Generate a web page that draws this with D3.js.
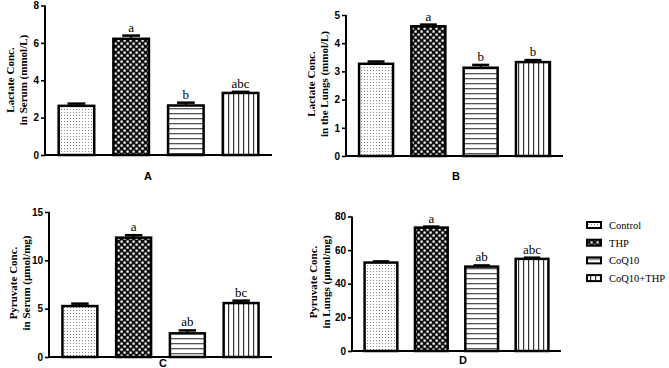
<!DOCTYPE html>
<html>
<head>
<meta charset="utf-8">
<script src="https://cdn.jsdelivr.net/npm/d3@7"></script>
<style>
  body { margin: 0; background: #fff; }
</style>
</head>
<body>
<svg id="chart" width="669" height="368"></svg>
<script>
// Treatment groups, same order in every panel
const groups = ["Control", "THP", "CoQ10", "CoQ10+THP"];

// A: lactate in serum (mmol/L)
const lactateSerumMean = [2.63, 6.22, 2.65, 3.32];
const lactateSerumSem = [0.12, 0.17, 0.15, 0.06];
const lactateSerumLetters = ["", "a", "b", "abc"];
const lactateSerumTicks = [0, 2, 4, 6, 8];

// B: lactate in the lungs (mmol/L)
const lactateLungMean = [3.27, 4.60, 3.13, 3.33];
const lactateLungSem = [0.08, 0.06, 0.10, 0.07];
const lactateLungLetters = ["", "a", "b", "b"];
const lactateLungTicks = [0, 1, 2, 3, 4, 5];

// C: pyruvate in serum (µmol/mg)
const pyruvateSerumMean = [5.27, 12.35, 2.45, 5.58];
const pyruvateSerumSem = [0.25, 0.25, 0.30, 0.25];
const pyruvateSerumLetters = ["", "a", "ab", "bc"];
const pyruvateSerumTicks = [0, 5, 10, 15];

// D: pyruvate in lungs (µmol/mg)
const pyruvateLungMean = [52.6, 73.4, 50.2, 54.8];
const pyruvateLungSem = [0.7, 0.6, 0.7, 0.7];
const pyruvateLungLetters = ["", "a", "ab", "abc"];
const pyruvateLungTicks = [0, 20, 40, 60, 80];

const svg = d3.select("svg#chart");
const defs = svg.append("defs");

// Fill patterns for the four groups
const dots = defs.append("pattern").attr("id", "pat0")
    .attr("patternUnits", "userSpaceOnUse").attr("width", 3).attr("height", 3);
dots.append("rect").attr("width", 3).attr("height", 3).attr("fill", "#fff");
dots.append("rect").attr("x", 1).attr("y", 1).attr("width", 1).attr("height", 1).attr("fill", "#888");

const checker = defs.append("pattern").attr("id", "pat1")
    .attr("patternUnits", "userSpaceOnUse").attr("width", 6).attr("height", 6);
checker.append("rect").attr("width", 6).attr("height", 6).attr("fill", "#111");
checker.append("rect").attr("x", 0.5).attr("y", 0.5).attr("width", 2.2).attr("height", 2.2).attr("fill", "#fff");
checker.append("rect").attr("x", 3.5).attr("y", 3.5).attr("width", 2.2).attr("height", 2.2).attr("fill", "#fff");

const hlines = defs.append("pattern").attr("id", "pat2")
    .attr("patternUnits", "userSpaceOnUse").attr("width", 5).attr("height", 5);
hlines.append("rect").attr("width", 5).attr("height", 5).attr("fill", "#fff");
hlines.append("rect").attr("y", 3).attr("width", 5).attr("height", 1.3).attr("fill", "#555");

const vlines = defs.append("pattern").attr("id", "pat3")
    .attr("patternUnits", "userSpaceOnUse").attr("width", 5).attr("height", 5);
vlines.append("rect").attr("width", 5).attr("height", 5).attr("fill", "#fff");
vlines.append("rect").attr("x", 3).attr("width", 1.2).attr("height", 5).attr("fill", "#333");

// Panel layout: axis box, titles and letter position
const panels = [
  { mean: lactateSerumMean, sem: lactateSerumSem, letters: lactateSerumLetters, ticks: lactateSerumTicks,
    x0: 45, x1: 272, top: 5.5, bottom: 155, tag: "A", tagX: 148, tagY: 180,
    title: ["Lactate Conc.", "in Serum (mmol/L)"], titleX: 10, titleY: 80 },
  { mean: lactateLungMean, sem: lactateLungSem, letters: lactateLungLetters, ticks: lactateLungTicks,
    x0: 346, x1: 563, top: 15, bottom: 156, tag: "B", tagX: 456, tagY: 180,
    title: ["Lactate Conc.", "in the Lungs (mmol/L)"], titleX: 311, titleY: 84 },
  { mean: pyruvateSerumMean, sem: pyruvateSerumSem, letters: pyruvateSerumLetters, ticks: pyruvateSerumTicks,
    x0: 49, x1: 272, top: 212, bottom: 357, tag: "C", tagX: 163, tagY: 367,
    title: ["Pyruvate Conc.", "in Serum (\u00b5mol/mg)"], titleX: 13, titleY: 283 },
  { mean: pyruvateLungMean, sem: pyruvateLungSem, letters: pyruvateLungLetters, ticks: pyruvateLungTicks,
    x0: 352, x1: 561, top: 216.5, bottom: 351, tag: "D", tagX: 463, tagY: 364,
    title: ["Pyruvate Conc.", "in Lungs (\u00b5mol/mg)"], titleX: 313, titleY: 282 }
];

panels.forEach(function(p) {
  const g = svg.append("g");

  const x = d3.scaleBand()
      .domain(groups)
      .range([p.x0, p.x1])
      .paddingInner(0.35)
      .paddingOuter(0.25);

  const y = d3.scaleLinear()
      .domain([0, d3.max(p.ticks)])
      .range([p.bottom, p.top]);

  const rows = groups.map((d, i) => ({ group: d, i: i, mean: p.mean[i], sem: p.sem[i], letter: p.letters[i] }));

  // Bars
  g.selectAll("rect.bar")
      .data(rows)
      .enter()
      .append("rect")
      .attr("class", "bar")
      .attr("x", d => x(d.group))
      .attr("y", d => y(d.mean))
      .attr("width", x.bandwidth())
      .attr("height", d => y(0) - y(d.mean))
      .attr("fill", d => "url(#pat" + d.i + ")")
      .attr("stroke", "#000")
      .attr("stroke-width", 2.5);

  // Error bars (upper half only)
  const capW = x.bandwidth() * 0.5;
  g.selectAll("line.err")
      .data(rows)
      .enter()
      .append("line")
      .attr("x1", d => x(d.group) + x.bandwidth() / 2)
      .attr("x2", d => x(d.group) + x.bandwidth() / 2)
      .attr("y1", d => y(d.mean))
      .attr("y2", d => y(d.mean + d.sem))
      .attr("stroke", "#000")
      .attr("stroke-width", 2);
  g.selectAll("line.cap")
      .data(rows)
      .enter()
      .append("line")
      .attr("x1", d => x(d.group) + x.bandwidth() / 2 - capW / 2)
      .attr("x2", d => x(d.group) + x.bandwidth() / 2 + capW / 2)
      .attr("y1", d => y(d.mean + d.sem))
      .attr("y2", d => y(d.mean + d.sem))
      .attr("stroke", "#000")
      .attr("stroke-width", 2.5);

  // Significance letters
  g.selectAll("text.sig")
      .data(rows)
      .enter()
      .append("text")
      .attr("x", d => x(d.group) + x.bandwidth() / 2)
      .attr("y", d => y(d.mean + d.sem) - 4)
      .attr("text-anchor", "middle")
      .attr("fill", "#000")
      .style("font-family", "'Liberation Serif', 'Times New Roman', serif")
      .style("font-size", "13px")
      .text(d => d.letter);

  // Y axis
  const yAxis = g.append("g")
      .attr("transform", "translate(" + p.x0 + ",0)")
      .call(d3.axisLeft(y).tickValues(p.ticks).tickFormat(d3.format("d")).tickSize(4).tickPadding(2));
  yAxis.select(".domain").attr("stroke-width", 2).attr("d", "M0," + y(0) + "V" + y(d3.max(p.ticks)));
  yAxis.selectAll(".tick line").attr("stroke-width", 1.6);
  yAxis.selectAll(".tick text")
      .style("font-family", "'Liberation Sans', Arial, sans-serif")
      .style("font-weight", "bold")
      .style("font-size", "10px")
      .attr("fill", "#000");

  // Baseline
  g.append("line")
      .attr("x1", p.x0)
      .attr("x2", p.x1)
      .attr("y1", y(0))
      .attr("y2", y(0))
      .attr("stroke", "#000")
      .attr("stroke-width", 2);

  // Panel tag
  g.append("text")
      .attr("x", p.tagX)
      .attr("y", p.tagY)
      .attr("text-anchor", "middle")
      .style("font-family", "'Liberation Sans', Arial, sans-serif")
      .style("font-weight", "bold")
      .style("font-size", "11px")
      .text(p.tag);

  // Y title, two rotated lines
  const title = g.append("text")
      .attr("transform", "translate(" + p.titleX + "," + p.titleY + ") rotate(-90)")
      .attr("text-anchor", "middle")
      .style("font-family", "'Liberation Serif', 'Times New Roman', serif")
      .style("font-weight", "bold")
      .style("font-size", "11px");
  p.title.forEach(function(t, k) {
    title.append("tspan")
        .attr("x", 0)
        .attr("dy", k == 0 ? "0.35em" : "13")
        .text(t);
  });
});

// Legend
const legend = svg.append("g").attr("transform", "translate(587,220)");
const items = legend.selectAll("g")
    .data(groups)
    .enter()
    .append("g")
    .attr("transform", (d, i) => "translate(0," + (i * 17.7) + ")");
items.append("rect")
    .attr("width", 14)
    .attr("height", 6)
    .attr("y", 2)
    .attr("fill", (d, i) => "url(#pat" + i + ")")
    .attr("stroke", "#000")
    .attr("stroke-width", 2);
items.append("text")
    .attr("x", 22)
    .attr("y", 9)
    .style("font-family", "'Liberation Serif', 'Times New Roman', serif")
    .style("font-size", "10.5px")
    .text(d => d);
</script>
</body>
</html>
